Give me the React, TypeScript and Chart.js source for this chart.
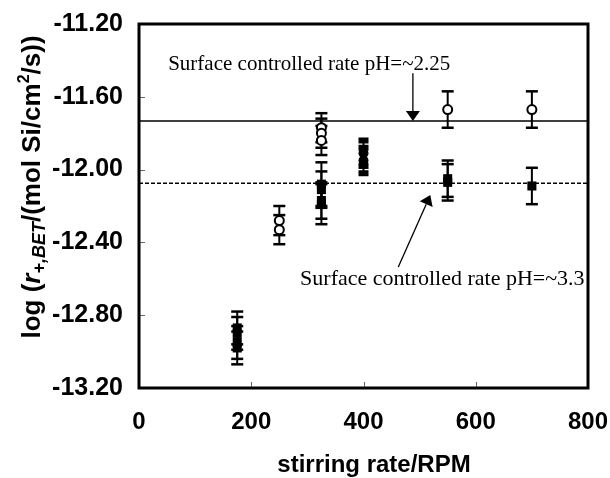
import React, { useEffect, useRef } from "react";
import { Chart, registerables } from "chart.js";

Chart.register(...registerables);

// ---- data ----
const xTicks = [0, 200, 400, 600, 800];
const yTicks = [-13.2, -12.8, -12.4, -12.0, -11.6, -11.2];

const openCircleX = [250, 250, 325, 325, 325, 550, 700];
const openCircleY = [-12.28, -12.33, -11.77, -11.8, -11.84, -11.67, -11.67];
const openCircleErr = [0.08, 0.08, 0.08, 0.08, 0.08, 0.1, 0.1];

const squareX = [175, 175, 175, 175, 325, 325, 325, 325, 550, 550, 700];
const squareY = [-12.87, -12.9, -12.95, -12.98, -12.08, -12.11, -12.17, -12.19, -12.05, -12.07, -12.09];
const squareErr = [0.09, 0.09, 0.09, 0.09, 0.12, 0.1, 0.1, 0.11, 0.1, 0.1, 0.1];

const filledCircleX = [400, 400];
const filledCircleY = [-11.91, -11.95];
const filledCircleErr = [0.07, 0.07];

const rateLowPH = -11.733; // pH ~2.25
const rateHighPH = -12.075; // pH ~3.3
const lineSpan = [0, 800];

const label1 = "Surface controlled rate pH=~2.25";
const label2 = "Surface controlled rate pH=~3.3";
const label1Pos = { x: 52, y: -11.452 };
const arrow1 = { x0: 488, y0: -11.47, x1: 488, y1: rateLowPH };
const label2Pos = { x: 287, y: -12.634 };
const arrow2 = { x0: 462, y0: -12.535, x1: 519, y1: -12.14 };

const xTitle = "stirring rate/RPM";

const toPts = (xs: number[], ys: number[]) => xs.map((x, i) => ({ x, y: ys[i] }));

const SANS = "'Liberation Sans', Arial, sans-serif";
const SERIF = "'Liberation Serif', 'Times New Roman', serif";

const decorPlugin = {
  id: "decor",
  beforeDatasetsDraw(chart: any) {
    const ctx = chart.ctx;
    const xs = chart.scales.x;
    const ys = chart.scales.y;
    chart.data.datasets.forEach((ds: any) => {
      if (!ds.errors) return;
      ctx.save();
      ctx.strokeStyle = "#000";
      ds.data.forEach((p: any, i: number) => {
        const e = ds.errors[i];
        const px = xs.getPixelForValue(p.x);
        const yTop = ys.getPixelForValue(p.y + e);
        const yBot = ys.getPixelForValue(p.y - e);
        ctx.lineWidth = 2;
        ctx.beginPath();
        ctx.moveTo(px, yTop);
        ctx.lineTo(px, yBot);
        ctx.stroke();
        const hw = ds.capHalfWidth || 6;
        const th = ds.capThickness || 2.5;
        ctx.fillStyle = "#000";
        ctx.fillRect(px - hw, yTop - th / 2, hw * 2, th);
        ctx.fillRect(px - hw, yBot - th / 2, hw * 2, th);
      });
      ctx.restore();
    });
  },
  afterDraw(chart: any) {
    const ctx = chart.ctx;
    const a = chart.chartArea;
    const xs = chart.scales.x;
    const ys = chart.scales.y;
    ctx.save();
    // inward tick marks
    ctx.strokeStyle = "#666";
    ctx.lineWidth = 1;
    xTicks.slice(1, -1).forEach((v) => {
      const px = Math.round(xs.getPixelForValue(v)) + 0.5;
      ctx.beginPath();
      ctx.moveTo(px, a.bottom);
      ctx.lineTo(px, a.bottom - 6);
      ctx.stroke();
    });
    yTicks.slice(1, -1).forEach((v) => {
      const py = Math.round(ys.getPixelForValue(v)) + 0.5;
      ctx.beginPath();
      ctx.moveTo(a.left, py);
      ctx.lineTo(a.left + 6, py);
      ctx.stroke();
    });
    // frame
    ctx.strokeStyle = "#000";
    ctx.lineWidth = 3;
    ctx.strokeRect(a.left, a.top, a.right - a.left, a.bottom - a.top);

    // annotations
    ctx.fillStyle = "#000";
    ctx.textBaseline = "alphabetic";
    ctx.textAlign = "left";
    ctx.font = `21px ${SERIF}`;
    ctx.fillText(label1, xs.getPixelForValue(label1Pos.x), ys.getPixelForValue(label1Pos.y));
    ctx.font = `22px ${SERIF}`;
    ctx.fillText(label2, xs.getPixelForValue(label2Pos.x), ys.getPixelForValue(label2Pos.y));

    const drawArrow = (ar: any) => {
      const x0 = xs.getPixelForValue(ar.x0);
      const y0 = ys.getPixelForValue(ar.y0);
      const x1 = xs.getPixelForValue(ar.x1);
      const y1 = ys.getPixelForValue(ar.y1);
      const ang = Math.atan2(y1 - y0, x1 - x0);
      const len = 10;
      const hw = 7;
      const bx = x1 - len * Math.cos(ang);
      const by = y1 - len * Math.sin(ang);
      ctx.strokeStyle = "#000";
      ctx.lineWidth = 1.3;
      ctx.beginPath();
      ctx.moveTo(x0, y0);
      ctx.lineTo(bx, by);
      ctx.stroke();
      ctx.beginPath();
      ctx.moveTo(x1, y1);
      ctx.lineTo(bx + hw * Math.sin(ang), by - hw * Math.cos(ang));
      ctx.lineTo(bx - hw * Math.sin(ang), by + hw * Math.cos(ang));
      ctx.closePath();
      ctx.fill();
    };
    drawArrow(arrow1);
    drawArrow(arrow2);

    // x title
    ctx.font = `bold 24px ${SANS}`;
    ctx.textAlign = "center";
    ctx.textBaseline = "middle";
    ctx.fillText(xTitle, 374, 465);

    // y title (rich text)
    const segs = [
      { t: "log (", f: `bold 26px ${SANS}`, dy: 0 },
      { t: "r", f: `italic bold 26px ${SANS}`, dy: 0 },
      { t: "+,BET", f: `italic bold 18px ${SANS}`, dy: 7 },
      { t: "/(mol Si/cm", f: `bold 26px ${SANS}`, dy: 0 },
      { t: "2", f: `bold 16px ${SANS}`, dy: -8 },
      { t: "/s))", f: `bold 26px ${SANS}`, dy: 0 },
    ];
    let total = 0;
    segs.forEach((s) => {
      ctx.font = s.f;
      total += ctx.measureText(s.t).width;
    });
    ctx.translate(33, 187);
    ctx.rotate(-Math.PI / 2);
    ctx.textAlign = "left";
    ctx.textBaseline = "middle";
    let cx = -total / 2;
    segs.forEach((s) => {
      ctx.font = s.f;
      ctx.fillText(s.t, cx, s.dy);
      cx += ctx.measureText(s.t).width;
    });
    ctx.restore();
  },
};

export default function App() {
  const ref = useRef<HTMLCanvasElement | null>(null);
  useEffect(() => {
    if (!ref.current) return;
    const chart = new Chart(ref.current, {
      type: "scatter",
      data: {
        datasets: [
          {
            label: "open",
            data: toPts(openCircleX, openCircleY),
            errors: openCircleErr,
            pointStyle: "circle",
            pointRadius: 4.5,
            pointBackgroundColor: "#fff",
            pointBorderColor: "#000",
            pointBorderWidth: 2,
            order: 1,
          } as any,
          {
            label: "squares",
            data: toPts(squareX, squareY),
            errors: squareErr,
            pointStyle: "rect",
            pointRadius: 6.4,
            pointBackgroundColor: "#000",
            pointBorderColor: "#000",
            pointBorderWidth: 0,
            order: 2,
          } as any,
          {
            label: "filled",
            data: toPts(filledCircleX, filledCircleY),
            errors: filledCircleErr,
            capThickness: 6,
            capHalfWidth: 5,
            pointStyle: "circle",
            pointRadius: 5,
            pointBackgroundColor: "#000",
            pointBorderColor: "#000",
            pointBorderWidth: 0,
            order: 3,
          } as any,
          {
            label: "pH 2.25",
            type: "line",
            data: lineSpan.map((x) => ({ x, y: rateLowPH })),
            borderColor: "#000",
            borderWidth: 1.5,
            pointRadius: 0,
            showLine: true,
            order: 10,
          } as any,
          {
            label: "pH 3.3",
            type: "line",
            data: lineSpan.map((x) => ({ x, y: rateHighPH })),
            borderColor: "#000",
            borderWidth: 1.5,
            borderDash: [4, 2],
            pointRadius: 0,
            showLine: true,
            order: 11,
          } as any,
        ],
      },
      options: {
        animation: false,
        responsive: false,
        events: [],
        layout: { padding: { left: 0, top: 24, right: 22, bottom: 0 } },
        plugins: { legend: { display: false }, tooltip: { enabled: false } },
        scales: {
          x: {
            type: "linear",
            min: 0,
            max: 800,
            afterBuildTicks: (s: any) => {
              s.ticks = xTicks.map((v) => ({ value: v }));
            },
            afterFit: (s: any) => {
              s.height = 90;
              s.paddingLeft = 0;
              s.paddingRight = 0;
            },
            ticks: {
              color: "#000",
              font: { family: SANS, size: 24, weight: "bold" },
              padding: 20,
              maxRotation: 0,
              autoSkip: false,
            },
            grid: { display: false, drawTicks: false },
            border: { display: false },
          },
          y: {
            type: "linear",
            min: -13.2,
            max: -11.2,
            afterBuildTicks: (s: any) => {
              s.ticks = yTicks.map((v) => ({ value: v }));
            },
            afterFit: (s: any) => {
              s.width = 139;
              s.paddingTop = 0;
              s.paddingBottom = 0;
            },
            ticks: {
              color: "#000",
              font: { family: SANS, size: 25, weight: "bold" },
              padding: 16,
              autoSkip: false,
              callback: (v: any) => Number(v).toFixed(2),
            },
            grid: { display: false, drawTicks: false },
            border: { display: false },
          },
        },
      } as any,
      plugins: [decorPlugin],
    });
    return () => chart.destroy();
  }, []);
  return (
    <div style={{ position: "absolute", left: 0, top: 0, width: 610, height: 478, background: "#fff" }}>
      <canvas ref={ref} width={610} height={478} style={{ display: "block" }} />
    </div>
  );
}
